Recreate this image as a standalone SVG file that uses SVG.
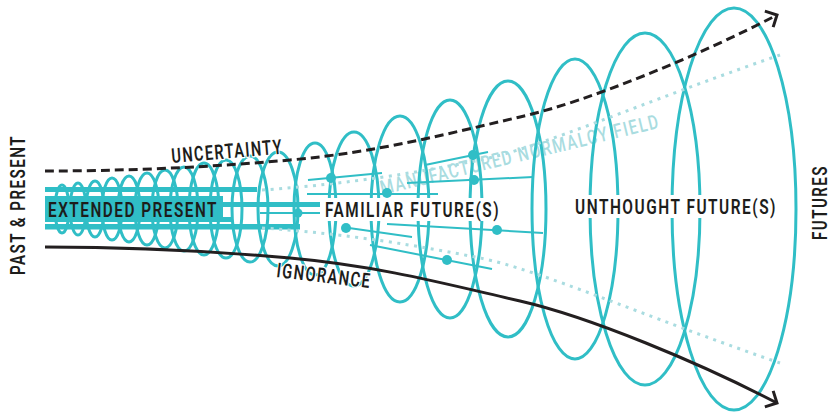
<svg xmlns="http://www.w3.org/2000/svg" width="831" height="412" viewBox="0 0 831 412">
<style>
.el{fill:none;stroke:#30bec6;stroke-width:3}
.bar{fill:#30bec6}
.tl{stroke:#30bec6;stroke-width:2;fill:none}
.dot{fill:#30bec6}
.lbl{font-family:Roboto,"Liberation Sans",sans-serif;font-weight:600;font-size:20.5px;fill:#1d1d1b;letter-spacing:2px}
.halo{stroke:#fff;stroke-width:2.5;paint-order:stroke;stroke-linejoin:round}
.faint{fill:#a9dce0;font-size:20px;font-weight:500}
.dotted{fill:none;stroke:#a9dce0;stroke-width:3;stroke-dasharray:3 5.5}
.blk{fill:none;stroke:#231f20;stroke-width:3}
.dash{stroke-dasharray:9 5}
</style>
<defs>
<marker id="arr" markerUnits="userSpaceOnUse" markerWidth="26" markerHeight="26" viewBox="-13 -13 26 26" refX="0" refY="0" orient="auto">
<path d="M-9,-9 L0,0 L-9,9" fill="none" stroke="#231f20" stroke-width="3"/>
</marker>
</defs>
<rect width="831" height="412" fill="#fff"/>

<g id="normalcy-field-label">
<text class="lbl faint" transform="translate(382,195) rotate(-13.6)" textLength="287" lengthAdjust="spacingAndGlyphs">MANUFACTURED NORMALCY FIELD</text>
</g>

<g id="extended-present-bars">
<rect class="bar" x="45" y="187" width="212" height="5"/>
<rect class="bar" x="45" y="196" width="178" height="26"/>
<rect class="bar" x="223" y="202" width="97" height="5"/>
<rect class="bar" x="223" y="217" width="10" height="5"/>
<rect class="bar" x="45" y="224" width="255" height="5.5"/>
</g>

<g id="horizons">
<ellipse class="el" cx="62" cy="209" rx="7" ry="24"/>
<ellipse class="el" cx="78" cy="209" rx="8" ry="26"/>
<ellipse class="el" cx="95" cy="209" rx="9" ry="28"/>
<ellipse class="el" cx="112" cy="209" rx="10" ry="31"/>
<ellipse class="el" cx="129" cy="209" rx="11" ry="33"/>
<ellipse class="el" cx="147" cy="209" rx="12" ry="36"/>
<ellipse class="el" cx="165" cy="209" rx="13" ry="39"/>
<ellipse class="el" cx="184" cy="209" rx="14" ry="42"/>
<ellipse class="el" cx="204" cy="209" rx="15" ry="46"/>
<ellipse class="el" cx="226" cy="209" rx="16" ry="49"/>
<ellipse class="el" cx="250" cy="209" rx="18" ry="53"/>
<ellipse class="el" cx="278" cy="209" rx="20" ry="57"/>
<ellipse class="el" cx="315" cy="209" rx="21" ry="66"/>
<ellipse class="el" cx="354" cy="209" rx="25" ry="77"/>
<ellipse class="el" cx="400" cy="209" rx="29" ry="93"/>
<ellipse class="el" cx="450" cy="209" rx="32" ry="109"/>
<ellipse class="el" cx="508" cy="209" rx="38" ry="128"/>
<ellipse class="el" cx="575" cy="209" rx="43" ry="150"/>
<ellipse class="el" cx="645" cy="209" rx="55" ry="176"/>
<ellipse class="el" cx="734" cy="209" rx="62" ry="201"/>
</g>

<g id="connectors">
<path class="dotted" d="M262,190 C350,184 420,172 480,160 S640,103 780,55"/>
<path class="dotted" d="M262,228 C350,234 420,246 480,258 S640,315 780,363"/>
<path class="tl" d="M260,213 H320"/>
<circle class="dot" cx="298" cy="213" r="4.5"/>
<path class="tl" d="M308,180 L382,173"/>
<circle class="dot" cx="331" cy="178" r="5"/>
<path class="tl" d="M307,194 H438"/>
<circle class="dot" cx="387" cy="193" r="5"/>
<path class="tl" d="M425,165 L488,152"/>
<circle class="dot" cx="473" cy="155" r="5"/>
<path class="tl" d="M407,183 L533,177"/>
<circle class="dot" cx="474" cy="180" r="5"/>
<path class="tl" d="M387,224 L543,233"/>
<circle class="dot" cx="497" cy="230" r="5"/>
<path class="tl" d="M342,227 L412,237"/>
<circle class="dot" cx="346" cy="228" r="5"/>
<path class="tl" d="M370,245 L492,269"/>
<circle class="dot" cx="447" cy="260" r="5"/>
<path class="blk dash" d="M45,171 C120,171 200,168 290,160 S450,133 520,117 S700,55 777,15" marker-end="url(#arr)"/>
<path class="blk" d="M45,247 C120,247 200,250 290,258 S450,285 520,301 S700,363 777,403" marker-end="url(#arr)"/>
</g>

<g id="extended-present">
<text class="lbl" x="48" y="216.5" textLength="170" lengthAdjust="spacingAndGlyphs">EXTENDED PRESENT</text>
</g>

<g id="familiar-futures">
<rect x="321" y="198" width="185" height="23" fill="#fff"/>
<text class="lbl" x="325" y="217" textLength="175" lengthAdjust="spacingAndGlyphs">FAMILIAR FUTURE(S)</text>
</g>

<g id="unthought-futures">
<rect x="569" y="195" width="216" height="23" fill="#fff"/>
<text class="lbl" x="575" y="214" textLength="202" lengthAdjust="spacingAndGlyphs">UNTHOUGHT FUTURE(S)</text>
</g>

<g id="uncertainty">
<text class="lbl halo" transform="translate(172,163) rotate(-4.8)" textLength="112" lengthAdjust="spacingAndGlyphs">UNCERTAINTY</text>
</g>

<g id="ignorance">
<text class="lbl halo" transform="translate(276,277) rotate(6.8)" textLength="95" lengthAdjust="spacingAndGlyphs">IGNORANCE</text>
</g>

<g id="past-present">
<text class="lbl" transform="translate(25,275) rotate(-90)" textLength="140" lengthAdjust="spacingAndGlyphs">PAST &amp; PRESENT</text>
</g>

<g id="futures">
<text class="lbl" transform="translate(827,240) rotate(-90)" textLength="75" lengthAdjust="spacingAndGlyphs">FUTURES</text>
</g>
</svg>
